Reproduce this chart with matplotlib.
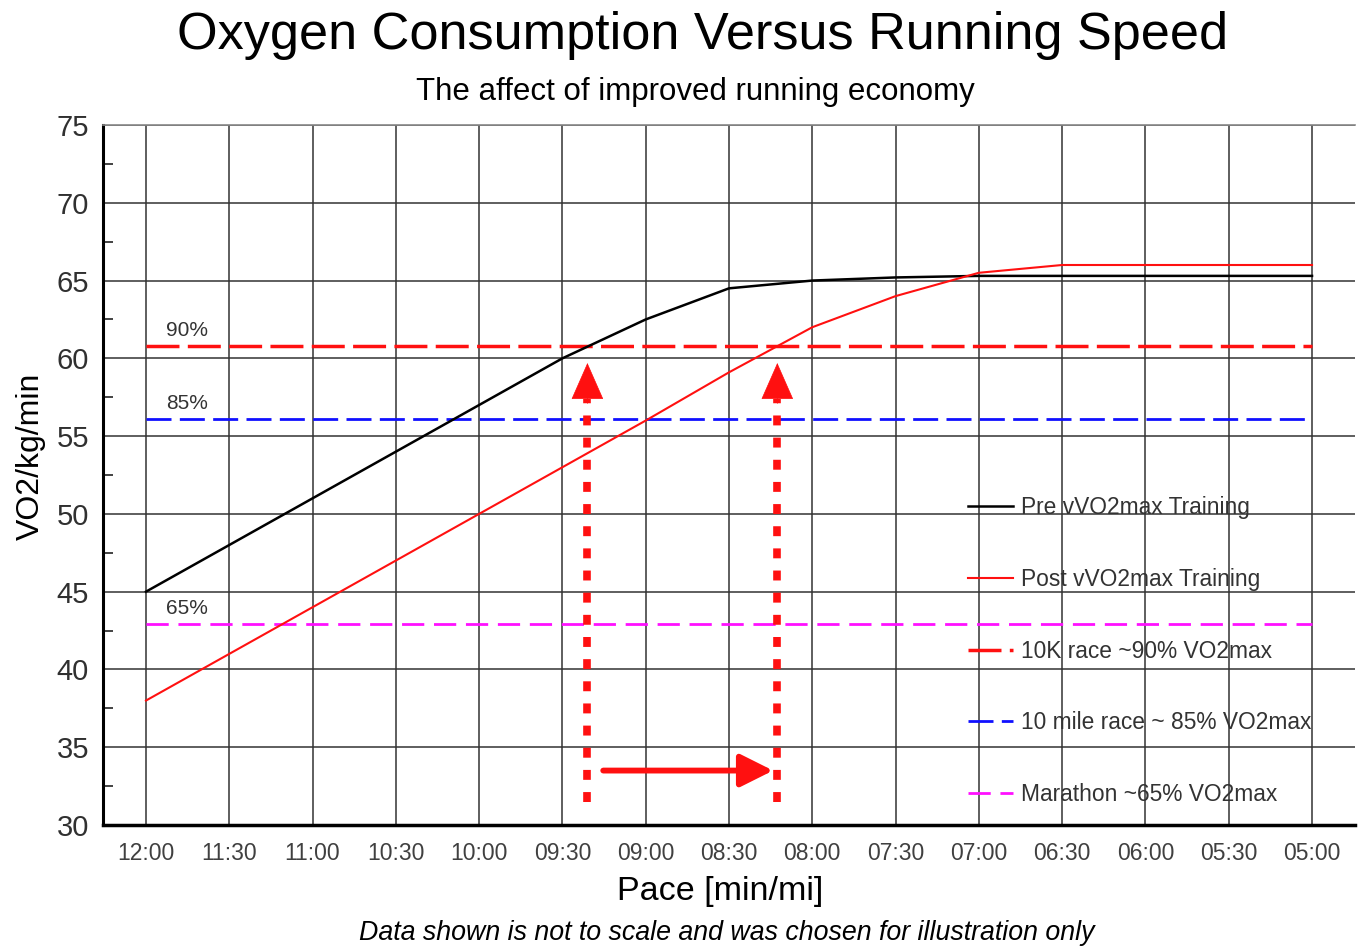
import matplotlib
matplotlib.use("Agg")
import matplotlib.pyplot as plt
from matplotlib.ticker import MultipleLocator

plt.rcParams['font.family'] = ['Liberation Sans', 'DejaVu Sans']

# ---- data ----
pace = [12.0, 11.5, 11.0, 10.5, 10.0, 9.5, 9.0, 8.5, 8.0, 7.5, 7.0, 6.5, 6.0, 5.5, 5.0]
pace_labels = ["12:00", "11:30", "11:00", "10:30", "10:00", "09:30", "09:00", "08:30",
               "08:00", "07:30", "07:00", "06:30", "06:00", "05:30", "05:00"]
pre_vo2 = [45.0, 48.0, 51.0, 54.0, 57.0, 60.0, 62.5, 64.5, 65.0, 65.2, 65.3, 65.3, 65.3, 65.3, 65.3]
post_vo2 = [38.0, 41.0, 44.0, 47.0, 50.0, 53.0, 56.0, 59.1, 62.0, 64.0, 65.5, 66.0, 66.0, 66.0, 66.0]
race_levels = [60.8, 56.1, 42.9]
race_pct = ["90%", "85%", "65%"]
race_names = ["10K race ~90% VO2max", "10 mile race ~ 85% VO2max", "Marathon ~65% VO2max"]
race_colors = ["#ff1010", "#1010ff", "#ff10ff"]
cross_pre = 9.35    # pace where pre curve reaches 90%
cross_post = 8.21   # pace where post curve reaches 90%
arrow_bottom = 31.5
arrow_base = 57.4
arrow_tip = 59.7
shift_arrow_y = 33.5
shift_arrow_start = 9.255
shift_arrow_end = 8.235

fig = plt.figure(figsize=(13.59, 9.47), dpi=100)
ax = fig.add_axes([103/1359, 1-825/947, (1355-103)/1359, (825-125)/947])

ax.set_xlim(12.258, 4.742)
ax.set_ylim(30, 75)

# curves
ax.plot(pace, pre_vo2, color="black", lw=1.8, label="Pre vVO2max Training", zorder=4)
ax.plot(pace, post_vo2, color="#ff1010", lw=1.5, label="Post vVO2max Training", zorder=4)

# race levels
dash_sets = [(9.5, 2.4), (9.0, 3.0), (8.0, 3.5)]
lws = [2.5, 2.0, 2.0]
for lvl, pct, name, col, ds, lw in zip(race_levels, race_pct, race_names, race_colors, dash_sets, lws):
    ax.plot([pace[0], pace[-1]], [lvl, lvl], color=col, lw=lw, dashes=ds,
            dash_capstyle='butt', label=name, zorder=3)
    ax.text(11.755, lvl + 1.0, pct, fontsize=15, color="#333333", ha="center", va="center")

# dotted vertical arrows
for xp in (cross_pre, cross_post):
    ax.plot([xp, xp], [arrow_bottom, arrow_base], color="#ff1010", lw=5.5,
            dashes=(1.3, 1.6), dash_capstyle='butt', zorder=5)
    ax.annotate("", xy=(xp, arrow_tip), xytext=(xp, arrow_base - 0.3),
                arrowprops=dict(arrowstyle="-|>,head_length=1.25,head_width=0.55",
                                color="#ff1010", lw=0.5, mutation_scale=20,
                                shrinkA=0, shrinkB=0), zorder=6)

# horizontal arrow
ax.annotate("", xy=(shift_arrow_end, shift_arrow_y), xytext=(shift_arrow_start, shift_arrow_y),
            arrowprops=dict(arrowstyle="-|>,head_length=1.0,head_width=0.5",
                            color="#ff1010", lw=4.2, mutation_scale=20,
                            shrinkA=0, shrinkB=0), zorder=6)

# axes styling
ax.set_xticks(pace)
ax.set_xticklabels(pace_labels, fontsize=16.5, color="#404040")
ax.yaxis.set_major_locator(MultipleLocator(5))
ax.yaxis.set_minor_locator(MultipleLocator(2.5))
ax.tick_params(axis='y', which='major', labelsize=21, labelcolor="#303030", length=0, pad=10)
ax.tick_params(axis='y', which='minor', direction='in', length=7, width=1.2, color='#222222')
ax.tick_params(axis='x', which='major', length=0, pad=12)
ax.grid(True, which='major', color='#333333', lw=1.1, zorder=1)
ax.set_axisbelow(True)
ax.spines['right'].set_visible(False)
ax.spines['top'].set_color('#888888')
ax.spines['top'].set_linewidth(1.2)
ax.spines['left'].set_linewidth(2.2)
ax.spines['bottom'].set_linewidth(2.5)

ax.set_xlabel("Pace [min/mi]", fontsize=24.5, labelpad=8)
ax.xaxis.label.set_x(0.493)
ax.set_ylabel("VO2/kg/min", fontsize=23, labelpad=8)
ax.yaxis.label.set_y(0.526)

leg = ax.legend(loc='center left', bbox_to_anchor=(0.691, 0.2485), frameon=False,
                fontsize=16.4, labelspacing=2.134, handlelength=1.97, handletextpad=0.35,
                borderpad=0, borderaxespad=0)
for t in leg.get_texts():
    t.set_color("#333333")

fig.text(703/1359, 1-35/947, "Oxygen Consumption Versus Running Speed", fontsize=37.6,
         ha="center", va="center")
fig.text(695/1359, 1-92/947, "The affect of improved running economy", fontsize=22.5,
         ha="center", va="center")
fig.text(727/1359, 1-933/947, "Data shown is not to scale and was chosen for illustration only",
         fontsize=19.3, style="italic", ha="center", va="center")

fig.savefig("out.png", dpi=100)
